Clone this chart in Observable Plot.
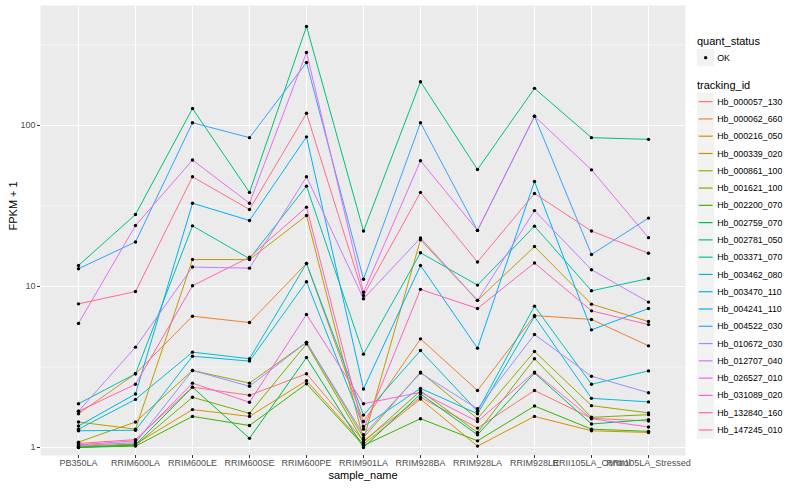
<!DOCTYPE html>
<html><head><meta charset="utf-8">
<script src="https://cdn.jsdelivr.net/npm/d3@7"></script>
<script src="https://cdn.jsdelivr.net/npm/@observablehq/plot@0.6"></script>
<style>
body{margin:0;background:#fff;font-family:"Liberation Sans",Arial,sans-serif;}
#wrap{position:relative;width:800px;height:500px;overflow:hidden;}
#legend{position:absolute;left:690px;top:0;}
</style></head><body><div id="wrap"><div id="legend"></div></div>
<script>
const samples = ["PB350LA","RRIM600LA","RRIM600LE","RRIM600SE","RRIM600PE","RRIM901LA","RRIM928BA","RRIM928LA","RRIM928LE","RRII105LA_Control","RRII105LA_Stressed"];
const trackingIds = ["Hb_000057_130","Hb_000062_660","Hb_000216_050","Hb_000339_020","Hb_000861_100","Hb_001621_100","Hb_002200_070","Hb_002759_070","Hb_002781_050","Hb_003371_070","Hb_003462_080","Hb_003470_110","Hb_004241_110","Hb_004522_030","Hb_010672_030","Hb_012707_040","Hb_026527_010","Hb_031089_020","Hb_132840_160","Hb_147245_010"];
const palette = ["#F8766D","#EA8331","#D89000","#C09B00","#A3A500","#7CAE00","#39B600","#00BB4E","#00BF7D","#00C1A3","#00BFC4","#00BAE0","#00B0F6","#35A2FF","#9590FF","#C77CFF","#E76BF3","#FA62DB","#FF62BC","#FF6C91"];
const quantStatus = ["OK"];
const yTicks = [1, 10, 100];
const yMinor = [3.162, 31.62, 316.2];
// FPKM + 1, one row per tracking_id, columns follow samples
const values = [
  [1.06, 1.12, 2.37, 2.11, 2.87, 1.10, 2.05, 1.32, 2.26, 1.52, 1.46],
  [1.62, 2.87, 6.54, 5.97, 13.9, 1.45, 4.73, 2.26, 6.6, 6.24, 4.28],
  [1.02, 1.05, 1.72, 1.56, 2.6, 1.05, 2.0, 1.02, 1.56, 1.27, 1.24],
  [1.44, 1.30, 14.7, 14.7, 27.6, 1.12, 19.5, 8.2, 17.7, 7.77, 6.06],
  [1.08, 1.44, 3.01, 2.51, 4.5, 1.15, 2.94, 1.51, 3.95, 1.82, 1.64],
  [1.01, 1.03, 2.05, 1.63, 4.4, 1.08, 2.25, 1.24, 3.56, 1.54, 1.60],
  [1.00, 1.02, 1.56, 1.37, 2.49, 1.03, 1.51, 1.10, 1.81, 1.30, 1.26],
  [1.00, 1.04, 2.37, 1.14, 3.62, 1.00, 2.15, 1.20, 2.9, 1.40, 1.49],
  [13.5, 28, 127.5, 38.4, 412, 22.1, 187, 53.3, 170, 84, 82],
  [1.87, 2.87, 23.8, 14.9, 42, 3.8, 16.2, 10.2, 23.7, 9.4, 11.2],
  [1.30, 1.99, 3.91, 3.56, 13.9, 1.59, 4.0, 1.68, 7.55, 2.47, 2.99],
  [1.27, 1.28, 3.69, 3.44, 10.7, 1.35, 2.33, 1.62, 6.5, 2.02, 1.92],
  [1.36, 2.15, 32.9, 25.7, 85, 2.31, 13.5, 4.14, 44.9, 5.38, 7.3],
  [12.9, 18.9, 104, 84, 246, 11.1, 104, 22.3, 114, 15.8, 26.6],
  [1.03, 1.07, 3.01, 2.4, 4.5, 1.20, 2.9, 1.74, 5.03, 2.77, 2.19],
  [1.68, 4.2, 13.2, 13.0, 48, 8.4, 20, 8.2, 29.6, 12.7, 8.0],
  [5.9, 23.9, 61, 32.9, 284, 9.2, 60.4, 22.3, 114, 53, 20.1],
  [1.04, 1.10, 2.51, 1.91, 6.7, 1.87, 2.2, 1.45, 2.94, 1.51, 1.34],
  [1.68, 2.47, 10.1, 15.2, 31.1, 1.30, 9.6, 7.3, 14.0, 7.06, 5.8],
  [7.8, 9.3, 48, 30.1, 119, 8.8, 38.4, 14.2, 37.8, 22.1, 16.1]
];

const rows = [];
trackingIds.forEach((id, i) => samples.forEach((s, j) => rows.push({sample: s, id, v: values[i][j], status: quantStatus[0]})));

const chart = Plot.plot({
  width: 800, height: 500,
  marginLeft: 40, marginRight: 115, marginTop: 5, marginBottom: 45,
  style: {fontFamily: "Liberation Sans, Arial, sans-serif", fontSize: "9px", background: "#fff", overflow: "visible"},
  x: {type: "point", domain: samples, padding: 0.6},
  y: {type: "log", domain: [0.892, 556]},
  color: {domain: trackingIds, range: palette},
  marks: [
    Plot.frame({fill: "#EBEBEB", stroke: null}),
    Plot.gridY(yMinor, {stroke: "#fff", strokeOpacity: 1, strokeWidth: 0.55}),
    Plot.gridY(yTicks, {stroke: "#fff", strokeOpacity: 1, strokeWidth: 1.1}),
    Plot.gridX(samples, {stroke: "#fff", strokeOpacity: 1, strokeWidth: 1.1}),
    Plot.line(rows, {x: "sample", y: "v", z: "id", stroke: "id", strokeWidth: 1}),
    Plot.dot(rows, {x: "sample", y: "v", fill: "black", stroke: null, r: 1.7}),
    Plot.axisY(yTicks, {tickSize: 3, tickPadding: 2, stroke: "#333", fill: "#4D4D4D", label: null, fontSize: 9, tickFormat: d => String(d)}),
    Plot.axisX(samples, {tickSize: 3, tickPadding: 1, stroke: "#333", fill: "#4D4D4D", label: null, fontSize: 9}),
    Plot.text(["FPKM + 1"], {frameAnchor: "left", dx: -27, rotate: -90, fontSize: 11, fill: "black"}),
    Plot.text(["sample_name"], {frameAnchor: "bottom", dy: 23, fontSize: 11, fill: "black"})
  ]
});
document.getElementById("wrap").prepend(chart);

// ggplot-style legend
const lg = d3.select("#legend").append("svg").attr("width", 110).attr("height", 500)
  .style("font-family", "Liberation Sans, Arial, sans-serif");
const keyX = 7, keyS = 17.28;
lg.append("text").attr("x", keyX).attr("y", 45).attr("font-size", 11).text("quant_status");
const okG = lg.append("g").attr("transform", `translate(${keyX},${49})`);
okG.append("rect").attr("width", keyS).attr("height", keyS).attr("fill", "#F2F2F2");
okG.append("circle").attr("cx", keyS/2).attr("cy", keyS/2).attr("r", 1.7).attr("fill", "black");
okG.append("text").attr("x", keyS + 3).attr("y", keyS/2).attr("dy", "0.35em").attr("font-size", 8.8).text(quantStatus[0]);
lg.append("text").attr("x", keyX).attr("y", 89).attr("font-size", 11).text("tracking_id");
trackingIds.forEach((id, i) => {
  const g = lg.append("g").attr("transform", `translate(${keyX},${93 + i*keyS})`);
  g.append("rect").attr("width", keyS).attr("height", keyS).attr("fill", "#F2F2F2");
  g.append("line").attr("x1", 1.7).attr("x2", keyS - 1.7).attr("y1", keyS/2).attr("y2", keyS/2)
    .attr("stroke", palette[i]).attr("stroke-width", 1.2);
  g.append("text").attr("x", keyS + 3).attr("y", keyS/2).attr("dy", "0.35em").attr("font-size", 8.8).text(id);
});
</script></body></html>
